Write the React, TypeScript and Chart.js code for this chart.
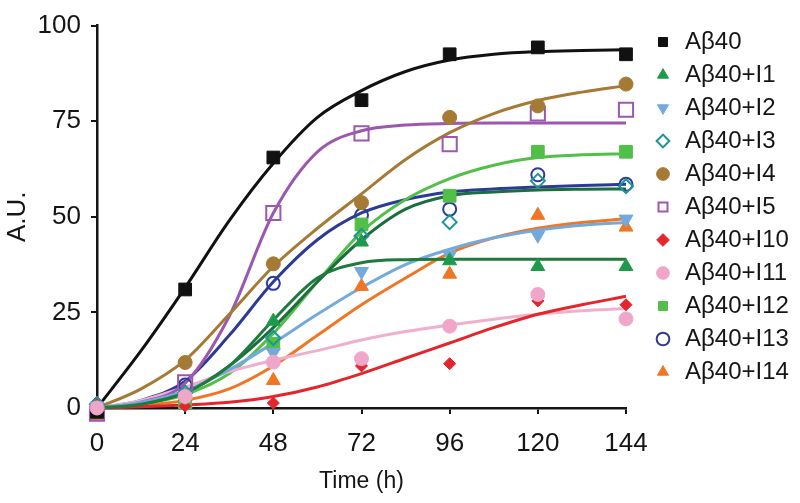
import React, { useEffect, useRef } from 'react';
import { Chart, registerables } from 'chart.js';

Chart.register(...registerables);

// Measurement times (h) and time grid used for reading the fitted curves
const hours = [0, 24, 48, 72, 96, 120, 144];
const fitHours = [0, 12, 24, 36, 48, 60, 72, 84, 96, 108, 120, 132, 144];
const xTickStep = 24;
const yTickStep = 25;

const seriesLabels = [
  'Aβ40', 'Aβ40+I1', 'Aβ40+I2', 'Aβ40+I3', 'Aβ40+I4', 'Aβ40+I5',
  'Aβ40+I10', 'Aβ40+I11', 'Aβ40+I12', 'Aβ40+I13', 'Aβ40+I14',
];

// Measured points (A.U.)
const ab40 = [-1, 31, 65.5, 80.5, 92.5, 94.3, 92.5];
const ab40I1 = [0, 3, 22.7, 43.4, 38.5, 37, 37];
const ab40I2 = [0.5, 3, 14.5, 35.7, 40, 45.2, 49.4];
const ab40I3 = [1, 4, 18.3, 45, 48.6, 59.4, 58];
const ab40I4 = [0, 11.9, 37.7, 53.7, 76, 79, 84.7];
const ab40I5 = [-1.5, 6.7, 51, 71.8, 69, 77, 78];
const ab40I10 = [1.5, 0.5, 1.3, 11, 11.6, 28, 27];
const ab40I11 = [0, 3, 12, 12.9, 21.4, 29.7, 23.3];
const ab40I12 = [-1, 1.5, 16.8, 48, 55.5, 67, 67];
const ab40I13 = [-0.5, 6, 32.6, 50.4, 52, 61, 58.5];
const ab40I14 = [-2, 1, 7.2, 31.8, 35, 50.4, 47.3];

// Fitted curves at fitHours
const fitAb40 = [0, 15, 31.5, 49, 64, 76, 83, 88, 91, 92.5, 93.2, 93.5, 93.7];
const fitI1 = [0, 1, 4, 11, 23, 34, 38, 38.8, 38.9, 38.9, 38.9, 38.9, 38.9];
const fitI2 = [0, 1.5, 4.5, 10, 17, 24.5, 31.5, 37.5, 41.5, 44.5, 46.5, 47.8, 48.5];
const fitI3 = [0, 1, 4, 11, 21, 33, 44, 52, 55.5, 56.5, 57, 57.2, 57.3];
const fitI4 = [0, 5, 12.5, 24.5, 37, 47, 56, 65, 72, 77, 80.4, 82.6, 84.3];
const fitI5 = [0, 1.5, 6.5, 24, 51, 67, 72.5, 74, 74.4, 74.5, 74.5, 74.5, 74.5];
const fitI10 = [0, 0.3, 0.8, 1.5, 3, 5.5, 9, 13, 17, 21, 24.5, 27, 29.2];
const fitI11 = [0, 2, 5.5, 9.5, 12.5, 15, 17.8, 20, 21.7, 23.2, 24.5, 25.4, 26];
const fitI12 = [0, 1, 3.5, 9, 19.5, 33, 46, 54.5, 60, 63.5, 65.5, 66.2, 66.5];
const fitI13 = [0, 2, 7, 19, 33, 44, 51, 54.5, 56.5, 57.3, 57.8, 58.2, 58.5];
const fitI14 = [0, 0.7, 2, 5, 11, 19, 27, 34, 40.5, 44.5, 47, 48.5, 49.5];

const pointValues = [ab40, ab40I1, ab40I2, ab40I3, ab40I4, ab40I5, ab40I10, ab40I11, ab40I12, ab40I13, ab40I14];
const fitValues = [fitAb40, fitI1, fitI2, fitI3, fitI4, fitI5, fitI10, fitI11, fitI12, fitI13, fitI14];

// Styles (separate from data)
const styles = [
  { shape: 'rect', rot: 0, color: '#111111', line: '#111111', open: false, r: 9, z: 0 },
  { shape: 'triangle', rot: 0, color: '#1e9a4c', line: '#1f7a3c', open: false, r: 8, z: 0 },
  { shape: 'triangle', rot: 180, color: '#74a9dc', line: '#74a9dc', open: false, r: 8, z: 0 },
  { shape: 'rectRot', rot: 0, color: '#1e9494', line: '#1c6e40', open: true, r: 7, z: 0 },
  { shape: 'circle', rot: 0, color: '#a57a34', line: '#a57a34', open: false, r: 7, z: 0 },
  { shape: 'rect', rot: 0, color: '#9c57b0', line: '#9c57b0', open: true, r: 10, z: 0 },
  { shape: 'rectRot', rot: 0, color: '#e3262b', line: '#e3262b', open: false, r: 6, z: 0 },
  { shape: 'circle', rot: 0, color: '#f0a6c8', line: '#f0b0cc', open: false, r: 7, z: -1 },
  { shape: 'rect', rot: 0, color: '#52bf48', line: '#52bf48', open: false, r: 9, z: 0 },
  { shape: 'circle', rot: 0, color: '#2c3b96', line: '#2c3b96', open: true, r: 6.5, z: 0 },
  { shape: 'triangle', rot: 0, color: '#f07623', line: '#f07623', open: false, r: 8, z: 0 },
];

const FONT = "'Liberation Sans', Arial, Helvetica, sans-serif";
const INK = '#151515';
const PLOT_RIGHT_SPACE = 174; // canvas px to the right of the plot area
const LEGEND_LEFT = 644;

// Moves the legend box a little to the right of the plot area
const legendOffset = {
  id: 'legendOffset',
  afterLayout(chart: any) {
    const lg = chart.legend;
    if (!lg) return;
    lg.left = LEGEND_LEFT;
    lg.right = LEGEND_LEFT + lg.width;
  },
};

export default function App() {
  const canvasRef = useRef<HTMLCanvasElement | null>(null);

  useEffect(() => {
    document.body.style.margin = '0';
    const canvas = canvasRef.current;
    if (!canvas) return;

    const pointSets = seriesLabels.map((label, i) => {
      const st = styles[i];
      return {
        label,
        data: hours.map((h, j) => ({ x: h, y: pointValues[i][j] })),
        showLine: false,
        order: st.z,
        pointStyle: st.shape,
        pointRotation: st.rot,
        pointRadius: st.r,
        pointHoverRadius: st.r,
        pointBackgroundColor: st.open ? 'rgba(0,0,0,0)' : st.color,
        pointBorderColor: st.color,
        pointBorderWidth: st.open ? 2 : 1,
        backgroundColor: st.open ? 'rgba(0,0,0,0)' : st.color,
        borderColor: st.color,
        clip: false,
      };
    });

    const fitSets = seriesLabels.map((label, i) => ({
      label: label + ' fit',
      data: fitHours.map((h, j) => ({ x: h, y: fitValues[i][j] })),
      showLine: true,
      order: 0,
      borderColor: styles[i].line,
      backgroundColor: styles[i].line,
      borderWidth: 3,
      pointRadius: 0,
      pointHoverRadius: 0,
      cubicInterpolationMode: 'monotone',
      fill: false,
      clip: false,
    }));

    const chart = new Chart(canvas, {
      type: 'line',
      data: { datasets: [...pointSets, ...fitSets] as any },
      plugins: [legendOffset],
      options: {
        responsive: false,
        animation: false,
        layout: { padding: { top: 21, right: 0, bottom: 0, left: 0 } },
        plugins: {
          legend: {
            position: 'right',
            align: 'start',
            labels: {
              usePointStyle: true,
              boxWidth: 20,
              boxHeight: 9,
              padding: 9,
              color: INK,
              font: { family: FONT, size: 24 },
              filter: (item: any) => item.datasetIndex < seriesLabels.length,
              sort: (a: any, b: any) => a.datasetIndex - b.datasetIndex,
            },
          },
          tooltip: { enabled: false },
        },
        scales: {
          x: {
            type: 'linear',
            position: 'bottom',
            min: 0,
            max: 144,
            ticks: { stepSize: xTickStep, color: INK, padding: 14, font: { family: FONT, size: 26 } },
            grid: { drawOnChartArea: false, drawTicks: true, tickLength: 6, color: INK, lineWidth: 2 },
            border: { display: true, color: INK, width: 2.5 },
            title: { display: true, text: 'Time (h)', color: INK, font: { family: FONT, size: 23 }, padding: { top: 0, bottom: 8 } },
            afterFit: (s: any) => { s.height = 95; s.paddingRight = PLOT_RIGHT_SPACE; },
          },
          y: {
            type: 'linear',
            position: 'left',
            min: 0,
            max: 100,
            ticks: { stepSize: yTickStep, color: INK, padding: 10, font: { family: FONT, size: 26 } },
            grid: { drawOnChartArea: false, drawTicks: true, tickLength: 6, color: INK, lineWidth: 2 },
            border: { display: true, color: INK, width: 2.5 },
            title: { display: true, text: 'A.U.', color: INK, font: { family: FONT, size: 26 }, padding: { top: 2, bottom: 0 } },
            afterFit: (s: any) => { s.width = 97; },
          },
        },
      } as any,
    });

    return () => chart.destroy();
  }, []);

  return (
    <div style={{ width: 800, height: 503, background: '#fff' }}>
      <canvas ref={canvasRef} width={800} height={503} style={{ display: 'block' }} />
    </div>
  );
}
